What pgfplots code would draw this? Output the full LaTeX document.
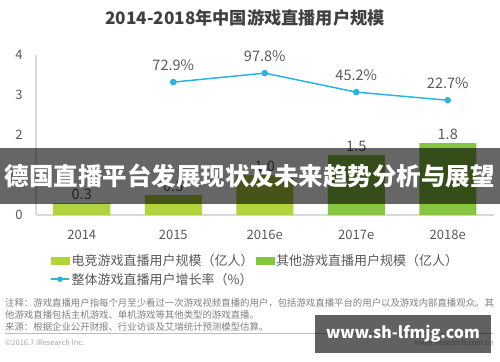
\documentclass[border=0pt]{standalone}
\usepackage{pgfplots}
\pgfplotsset{compat=1.18}
\usepackage{fontspec}
\setmainfont{Noto Sans CJK SC}
\definecolor{esc}{HTML}{B0D43A}
\definecolor{oth}{HTML}{86C540}
\definecolor{lin}{HTML}{2BB3E6}
\definecolor{txt}{HTML}{595959}
\definecolor{ttl}{HTML}{404040}
\definecolor{axl}{HTML}{D9D9D9}
\definecolor{note}{HTML}{808080}
\definecolor{sep}{HTML}{BFBFBF}
\begin{document}
\begin{tikzpicture}
\path[use as bounding box] (0bp,0bp) rectangle (500bp,-362bp);
\begin{axis}[
  at={(36bp,-215bp)}, anchor=south west,
  width=457.5bp, height=160bp, scale only axis,
  xmin=-0.5, xmax=4.5, ymin=0, ymax=4,
  axis x line*=bottom, axis y line*=left,
  x axis line style={draw=axl, line width=2bp, -},
  y axis line style={draw=axl, line width=1.2bp, -},
  xtick={0,1,2,3,4}, xticklabels={2014,2015,2016e,2017e,2018e},
  ytick={0,1,2,3,4},
  major tick length=0pt,
  /pgf/number format/assume math mode=true,
  tick label style={font=\fontsize{13bp}{15bp}\selectfont, text=txt},
  xticklabel style={yshift=-12bp},
  yticklabel style={xshift=-10bp},
  ybar, bar width=57bp, bar shift=0pt,
  nodes near coords,
  nodes near coords style={font=\fontsize{14.5bp}{16bp}\selectfont, text=txt,
    /pgf/number format/.cd, fixed, fixed zerofill, precision=1, assume math mode=true},
  clip=false,
  legend columns=2,
  legend style={at={(0.0306,-0.235)}, anchor=north west, draw=none, fill=none,
    font=\fontsize{13bp}{15bp}\selectfont, text=txt, inner sep=0pt,
    /tikz/every even column/.append style={column sep=0bp},
    row sep=1.5bp},
  legend cell align=left,
]
\addplot[fill=esc, draw=none, forget plot] coordinates {(0,0.3) (1,0.5) (2,1.0)};
\addplot[fill=oth, draw=none, forget plot] coordinates {(3,1.5) (4,1.8)};
\addlegendimage{legend image code/.code={\fill[esc] (0bp,-3.5bp) rectangle (18bp,3.5bp);}}
\addlegendentry{电竞游戏直播用户规模（亿人）}
\addlegendimage{legend image code/.code={\fill[oth] (0bp,-3.5bp) rectangle (18bp,3.5bp);}}
\addlegendentry{其他游戏直播用户规模（亿人）}
\addlegendimage{legend image code/.code={\draw[lin, line width=1.5bp] (0bp,0bp) -- (18bp,0bp); \fill[lin] (9bp,0bp) circle (2.5bp);}}
\addlegendentry{整体游戏直播用户增长率（\%）}
\end{axis}
\begin{axis}[
  at={(36bp,-215bp)}, anchor=south west,
  width=457.5bp, height=160bp, scale only axis,
  xmin=-0.5, xmax=4.5, ymin=-295, ymax=148,
  hide axis, clip=false,
]
\addplot[lin, line width=1.5bp, mark=*, mark size=2.5bp,
  nodes near coords={\pgfmathprintnumber[fixed,fixed zerofill,precision=1,assume math mode=true]{\pgfplotspointmeta}\%},
  nodes near coords style={font=\fontsize{14.5bp}{16bp}\selectfont, text=txt, anchor=south, yshift=7bp}]
  coordinates {(1,72.9) (2,97.8) (3,45.2) (4,22.7)};
\end{axis}
\begin{scope}[x=1bp,y=-1bp]
\node[font=\fontsize{17.2bp}{20bp}\selectfont\bfseries, text=ttl] at (245,18) {2014-2018年中国游戏直播用户规模};
\begin{scope}[font=\fontsize{9.4bp}{11bp}\selectfont, text=note]
\node[anchor=base west, inner sep=0pt] at (5,306.5) {注释：游戏直播用户指每个月至少看过一次游戏视频直播的用户，包括游戏直播平台的用户以及游戏内部直播观众。其};
\node[anchor=base west, inner sep=0pt] at (5,318.5) {他游戏直播包括主机游戏、单机游戏等其他类型的游戏直播。};
\node[anchor=base west, inner sep=0pt] at (5,330.5) {来源：根据企业公开财报、行业访谈及艾瑞统计预测模型估算。};
\end{scope}
\draw[sep, line width=0.8bp] (5,333.5) -- (493,333.5);
\node[anchor=base west, inner sep=0pt, font=\fontsize{7.5bp}{9bp}\selectfont, text=note!70] at (5,345) {©2016.7 iResearch Inc.};
\node[anchor=base east, inner sep=0pt, font=\fontsize{7.5bp}{9bp}\selectfont, text=note!70] at (494,345) {www.iresearch.com.cn};
\fill[black, opacity=0.6] (0,148) rectangle (500,204);
\node[font=\fontsize{24.5bp}{28bp}\selectfont\bfseries, text=white] at (250,176) {德国直播平台发展现状及未来趋势分析与展望};
\fill[black, opacity=0.62] (315,315) rectangle (491,353);
\node[font=\fontsize{16bp}{19bp}\selectfont\bfseries, text=white] at (403,334) {www.sh-lfmjg.com};
\end{scope}
\end{tikzpicture}
\end{document}
